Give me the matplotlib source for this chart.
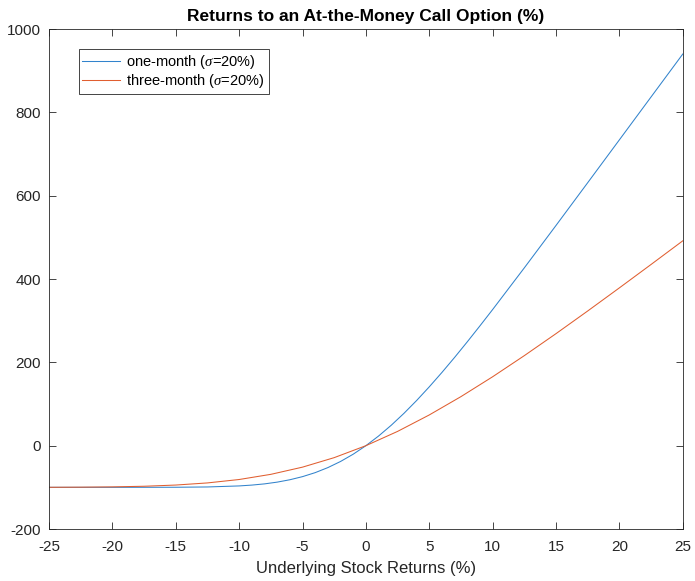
import matplotlib
matplotlib.use("Agg")
import matplotlib.pyplot as plt

# stock move (%) and option return (%) for each maturity
x_one = [-25, -22.5, -20, -17.5, -15, -12.5, -10, -9, -8, -7, -6, -5, -4, -3, -2, -1,
         0, 1, 2, 3, 4, 5, 6, 7, 8, 9, 10, 12.5, 15, 17.5, 20, 22.5, 25]
ret_one = [-100.0, -100.0, -100.0, -99.9, -99.8, -99.1, -96.6, -94.6, -91.7, -87.5,
           -81.8, -74.3, -64.7, -52.6, -37.9, -20.4, 0.0, 23.2, 49.1, 77.6, 108.4,
           141.3, 175.9, 212.0, 249.4, 287.8, 326.9, 427.0, 528.8, 631.4, 734.3,
           837.3, 940.2]

x_three = [-25, -22.5, -20, -17.5, -15, -12.5, -10, -7.5, -5, -2.5, 0,
           2.5, 5, 7.5, 10, 12.5, 15, 17.5, 20, 22.5, 25]
ret_three = [-99.9, -99.6, -98.9, -97.4, -94.5, -89.4, -81.2, -68.8, -51.5, -28.7, 0.0,
             34.3, 73.8, 117.8, 165.5, 216.2, 269.0, 323.4, 378.9, 435.1, 491.8]

labels = ['one-month ($\\sigma$=20%)', 'three-month ($\\sigma$=20%)']
xticks = list(range(-25, 30, 5))
yticks = list(range(-200, 1200, 200))

plt.rcParams['font.family'] = ['Liberation Sans', 'DejaVu Sans']
plt.rcParams['mathtext.fontset'] = 'custom'
plt.rcParams['mathtext.it'] = 'Liberation Serif:italic'
plt.rcParams['axes.unicode_minus'] = False

fig = plt.figure(figsize=(6.95, 5.81), dpi=100)
ax = fig.add_axes([0.0705, 0.0895, 0.912, 0.8605])

ax.plot(x_one, ret_one, color='#3283CC', lw=0.75, label=labels[0])
ax.plot(x_three, ret_three, color='#E05E30', lw=0.75, label=labels[1])

ax.set_xlim(-25, 25)
ax.set_ylim(-200, 1000)
ax.set_xticks(xticks)
ax.set_yticks(yticks)
ax.tick_params(direction='in', top=True, right=True, length=5, width=0.6,
               color='#262626', labelsize=11, labelcolor='#262626')
ax.tick_params(axis='x', pad=8)
ax.tick_params(axis='y', pad=6)
for s in ax.spines.values():
    s.set_color('#262626')
    s.set_linewidth(0.6)

ax.set_title('Returns to an At-the-Money Call Option (%)', fontsize=12.5,
             fontweight='bold', pad=6)
ax.set_xlabel('Underlying Stock Returns (%)', fontsize=12, color='#262626', labelpad=5)

leg = ax.legend(loc='upper left', bbox_to_anchor=(0.047, 0.96), borderaxespad=0,
                fancybox=False, edgecolor='#262626', fontsize=10.5, handlelength=2.6,
                handletextpad=0.4, borderpad=0.25, labelspacing=0.12, framealpha=1)
leg.get_frame().set_linewidth(0.6)

fig.savefig('out.png', dpi=100)
